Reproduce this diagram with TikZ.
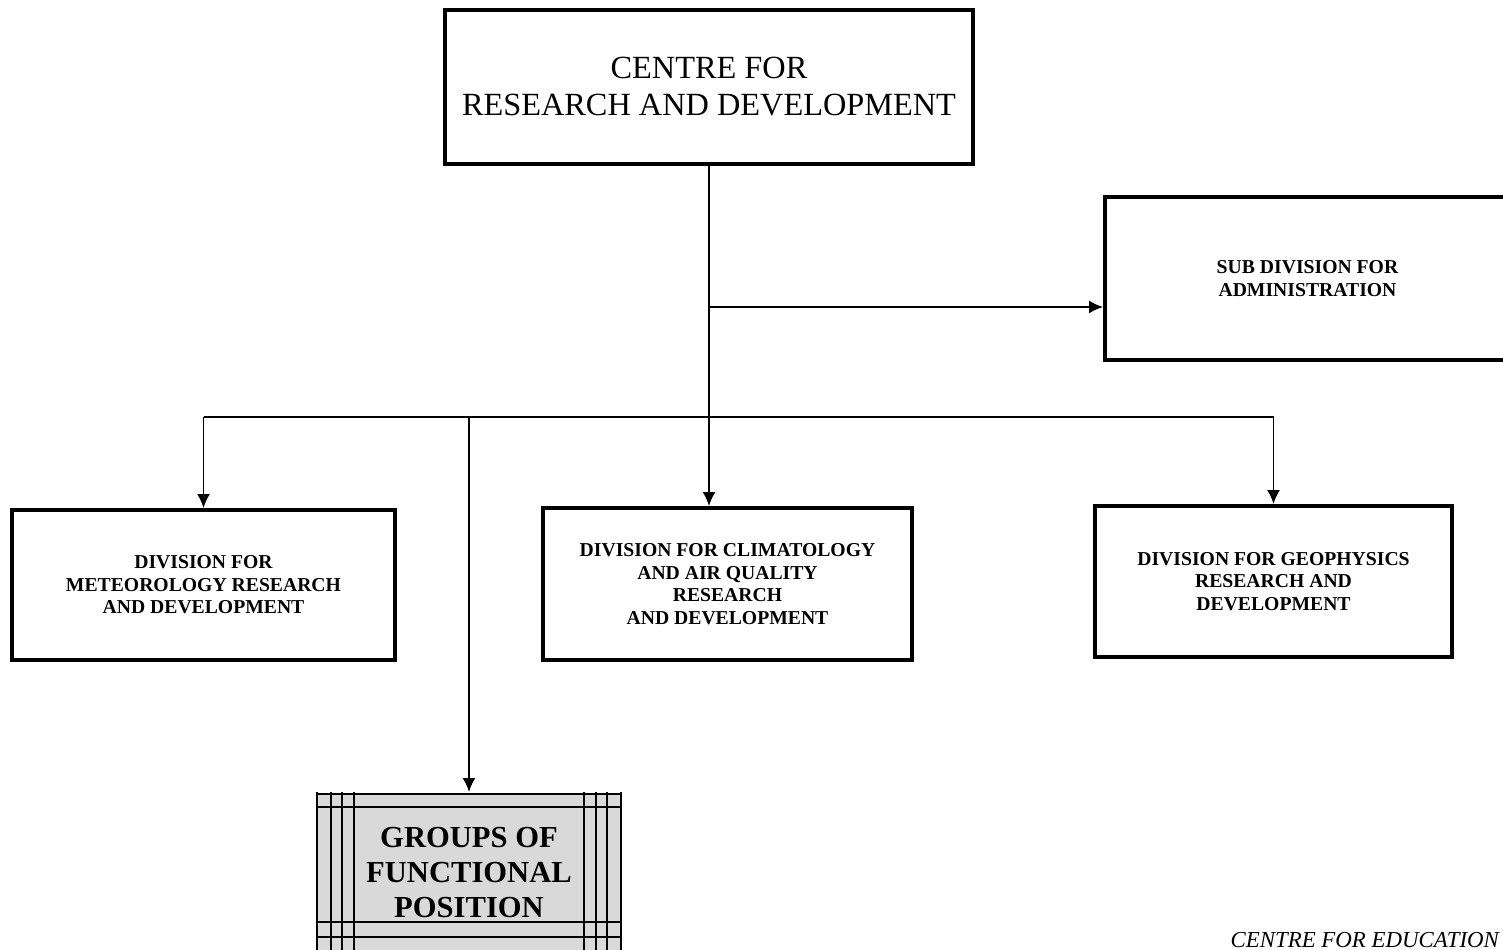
\documentclass[tikz,border=0pt]{standalone}
\usepackage{fontspec}
\setmainfont{Liberation Serif}
\usepackage{tikz}
\usetikzlibrary{arrows.meta}

\tikzset{
  unit/.style={draw, line width=1.1pt, align=center, inner sep=0pt,
    font=\fontsize{5.6}{6.4}\selectfont\bfseries},
}

\begin{document}
\begin{tikzpicture}[x=0.1mm, y=-0.1mm, >={Latex[length=1.4mm,width=1.3mm]}, line width=0.55pt]
    \useasboundingbox[fill=white] (0,0) rectangle (1503,950);
    \node[unit, minimum width=52.8mm, minimum height=15.4mm,
      font=\fontsize{9.2}{10.5}\selectfont] (crd) at (709,87)
      {CENTRE FOR\\RESEARCH AND DEVELOPMENT};
    \node[unit, minimum width=40.5mm, minimum height=16.3mm] (adm) at (1307.5,278.5)
      {SUB DIVISION FOR\\ADMINISTRATION};
    \node[unit, minimum width=38.3mm, minimum height=15mm] (met) at (203.5,585)
      {DIVISION FOR\\METEOROLOGY RESEARCH\\AND DEVELOPMENT};
    \node[unit, minimum width=36.9mm, minimum height=15.2mm] (clim) at (727.5,584)
      {DIVISION FOR CLIMATOLOGY\\AND AIR QUALITY\\RESEARCH\\AND DEVELOPMENT};
    \node[unit, minimum width=35.7mm, minimum height=15.1mm] (geo) at (1273.5,581.5)
      {DIVISION FOR GEOPHYSICS\\RESEARCH AND\\DEVELOPMENT};
    \node[fill=gray!30, minimum width=30.4mm, minimum height=15.9mm, align=center,
      inner sep=0pt, font=\fontsize{8.7}{10}\selectfont\bfseries] (grp) at (469,872.5)
      {GROUPS OF\\FUNCTIONAL\\POSITION};
    % frame lines of the functional group box
    \foreach \dx in {1,15,26,38} {
      \draw[line width=0.6pt] (grp.north west) ++(\dx,0) -- ++(0,159);
      \draw[line width=0.6pt] (grp.north east) ++(-\dx,0) -- ++(0,159);
    }
    \foreach \dy in {2,15,130,145} \draw[line width=0.6pt] (grp.north west) ++(0,\dy) -- ++(304,0);
    \node[anchor=base west, font=\fontsize{6.5}{7}\selectfont\itshape] (edu) at (1218,947)
      {CENTRE FOR EDUCATION};

    \coordinate (split) at (709,307);
    \coordinate (bus) at (709,417);
    \draw[->] (crd.south) -- (crd.south |- clim.north);
    \draw[->] (split) -- (split -| adm.west);
    \draw (met.north |- bus) -- (geo.north |- bus);
    \draw[->] (met.north |- bus) -- (met.north);
    \draw[->] (geo.north |- bus) -- (geo.north);
    \draw[->] (grp.north |- bus) -- (grp.north);
\end{tikzpicture}
\end{document}
